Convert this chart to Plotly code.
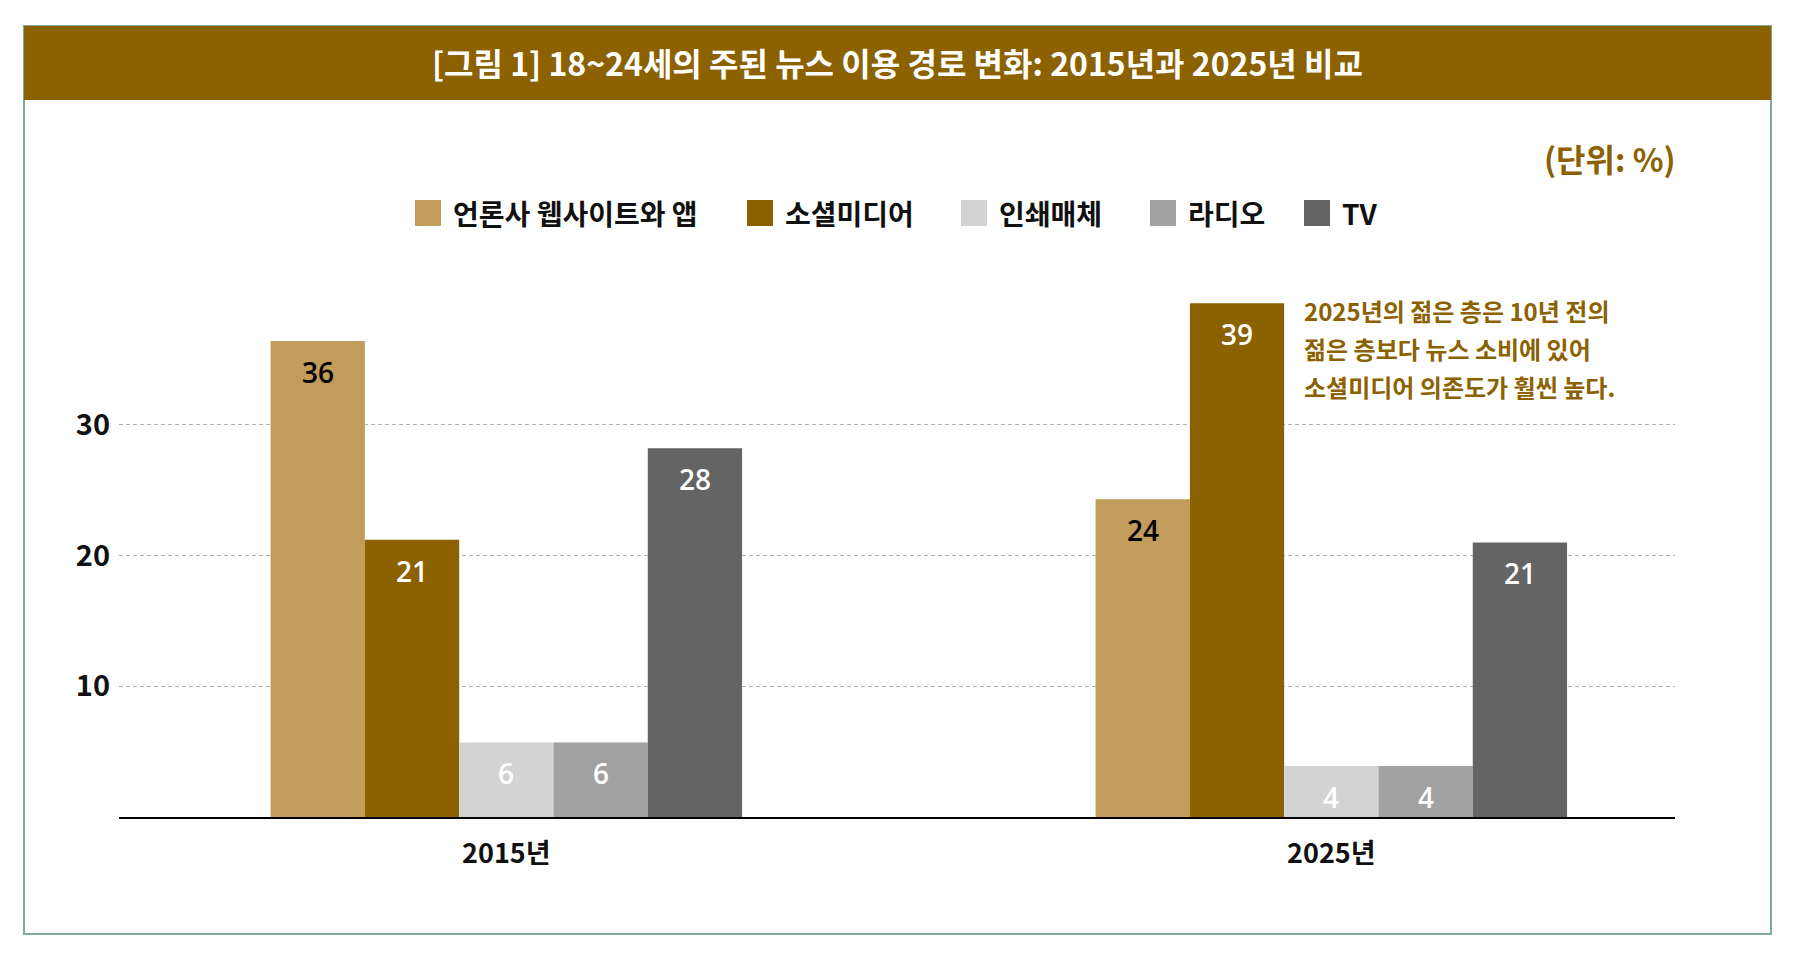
import plotly.graph_objects as go


YEARS = ["2015년", "2025년"]
SERIES = ["언론사 웹사이트와 앱", "소셜미디어", "인쇄매체", "라디오", "TV"]

NEWS_SITES = [36.4, 24.3]
SOCIAL_MEDIA = [21.2, 39.3]
PRINT_MEDIA = [5.7, 3.9]
RADIO = [5.7, 3.9]
TV = [28.2, 21.0]

Y_TICKS = [10, 20, 30]

UNIT_TEXT = "(단위: %)"
TITLE = "[그림 1] 18~24세의 주된 뉴스 이용 경로 변화: 2015년과 2025년 비교"
NOTE_LINES = [
    "2025년의 젊은 층은 10년 전의",
    "젊은 층보다 뉴스 소비에 있어",
    "소셜미디어 의존도가 훨씬 높다.",
]

COLORS = ["#C19C5A", "#8C6100", "#D3D3D3", "#A0A1A0", "#646464"]
LABEL_COLORS = ["#000000", "#FFFFFF", "#FFFFFF", "#FFFFFF", "#FFFFFF"]
BROWN = "#8C6100"
FONT = "Noto Sans CJK KR"

# page geometry in window px; the page body adds an 8px margin
PAGE_MARGIN = 8
WIDTH, HEIGHT = 1799 - 2 * PAGE_MARGIN, 955 - 2 * PAGE_MARGIN
LEFT, RIGHT, TOP, BOTTOM = 119, 1675, 294, 817
X_RANGE = [-0.4695, 1.4166]
BARGAP = 0.4285
LEGEND_X = [415, 747, 961, 1150, 1304]


def xp(px):
    return (px - LEFT) / (RIGHT - LEFT)


def yp(py):
    return (BOTTOM - py) / (BOTTOM - TOP)


def main():

    values = [NEWS_SITES, SOCIAL_MEDIA, PRINT_MEDIA, RADIO, TV]

    fig = go.Figure()

    for name, vals, color in zip(SERIES, values, COLORS):
        fig.add_trace(
            go.Bar(x=YEARS,
                   y=vals,
                   name=name,
                   marker_color=color,
                   marker_line_width=0,
                   showlegend=False,
                   hoverinfo="skip"))

    # value labels just under the top of each bar
    bar_px = (RIGHT - LEFT) / (X_RANGE[1] - X_RANGE[0]) * (1 - BARGAP) / len(SERIES)
    annotations = []
    for i, (vals, lc) in enumerate(zip(values, LABEL_COLORS)):
        for year, v in zip(YEARS, vals):
            annotations.append(dict(
                x=year, y=v, xref="x", yref="y",
                xshift=(i - 2) * bar_px, yshift=-31,
                text=f"{v:.0f}", showarrow=False,
                font=dict(family="Open Sans", size=28, color=lc, weight=600)))

    # legend drawn by hand so the swatches can be large
    shapes = []
    for name, color, lx in zip(SERIES, COLORS, LEGEND_X):
        shapes.append(dict(
            type="rect", xref="paper", yref="paper",
            x0=xp(lx), x1=xp(lx + 26), y0=yp(226), y1=yp(200),
            fillcolor=color, line_width=0))
        annotations.append(dict(
            x=xp(lx + 36), y=yp(213), xref="paper", yref="paper",
            xanchor="left", yanchor="middle", showarrow=False,
            text=name, font=dict(family=FONT, size=28, color="#111111", weight="bold")))

    # frame and title band
    shapes.append(dict(
        type="rect", xref="paper", yref="paper",
        x0=xp(24), x1=xp(1771), y0=yp(934), y1=yp(26),
        line=dict(color="#7FA99B", width=2), fillcolor="rgba(0,0,0,0)"))
    shapes.append(dict(
        type="rect", xref="paper", yref="paper",
        x0=xp(24), x1=xp(1771), y0=yp(100), y1=yp(26),
        fillcolor=BROWN, line_width=0))

    annotations.append(dict(
        x=xp(897), y=yp(62), xref="paper", yref="paper",
        xanchor="center", yanchor="middle", showarrow=False,
        text=TITLE, font=dict(family=FONT, size=32, color="white", weight="bold")))

    annotations.append(dict(
        x=1, y=yp(158), xref="paper", yref="paper", xshift=3,
        xanchor="right", yanchor="middle", showarrow=False,
        text=UNIT_TEXT, font=dict(family=FONT, size=32, color=BROWN, weight="bold")))

    for k, line in enumerate(NOTE_LINES):
        annotations.append(dict(
            x=xp(1302), y=yp(310 + 38 * k), xref="paper", yref="paper",
            xanchor="left", yanchor="middle", showarrow=False,
            text=line, font=dict(family=FONT, size=24, color=BROWN, weight="bold")))

    fig.update_xaxes(
        range=X_RANGE,
        showline=True,
        linecolor="#000000",
        linewidth=2,
        ticks="",
        ticklabelstandoff=12,
        tickfont=dict(family=FONT, size=27, color="#111111", weight="bold"),
        showgrid=False,
        fixedrange=True
    )

    fig.update_yaxes(
        range=[0, 40],
        tickvals=Y_TICKS,
        showline=False,
        zeroline=False,
        showgrid=True,
        gridcolor="#B0B0B0",
        gridwidth=1,
        griddash="4px,3px",
        ticks="",
        ticklabelstandoff=8,
        tickfont=dict(family=FONT, size=29, color="#111111", weight="bold"),
        fixedrange=True
    )

    fig.update_layout(
        barmode="group",
        bargap=BARGAP,
        bargroupgap=0,
        width=WIDTH,
        height=HEIGHT,
        margin=dict(l=LEFT - PAGE_MARGIN, r=WIDTH + PAGE_MARGIN - RIGHT,
                    t=TOP - PAGE_MARGIN, b=HEIGHT + PAGE_MARGIN - BOTTOM, pad=0),
        paper_bgcolor="white",
        plot_bgcolor="white",
        showlegend=False,
        font_family=FONT,
        shapes=shapes,
        annotations=annotations
    )

    fig.write_html("out.html")


if __name__ == "__main__":

    main()
